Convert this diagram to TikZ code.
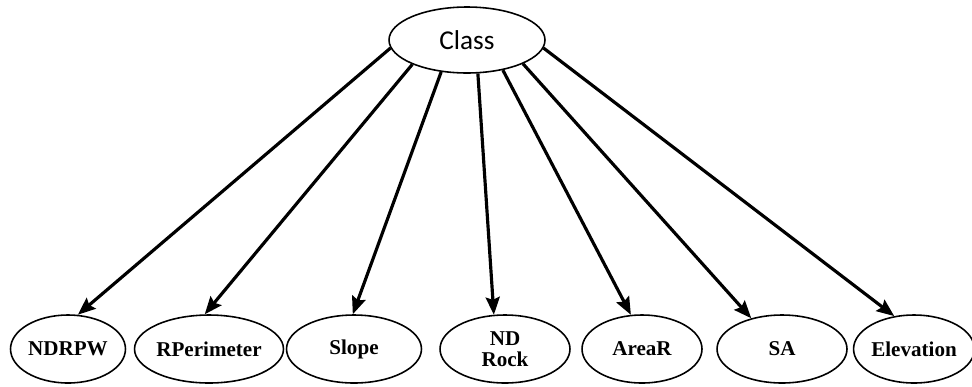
\documentclass[tikz,border=0pt]{standalone}
\usepackage{fontspec}
\setmainfont{Liberation Serif}
\newfontfamily\classfont{Carlito}
\usepackage{tikz}
\usetikzlibrary{shapes,arrows.meta,positioning}
\tikzstyle{rootbox} = [ellipse, draw=black, line width=0.9pt, inner sep=0pt, minimum width=3.12cm, minimum height=1.32cm, font=\classfont\fontsize{15.5}{18}\selectfont]
\tikzstyle{leafbox} = [ellipse, draw=black, line width=0.9pt, inner sep=0pt, minimum height=1.36cm, align=center, font=\bfseries\fontsize{12}{12}\selectfont]
\tikzstyle{arrow} = [line width=1.8pt,-{Stealth[length=10pt,width=8pt,inset=1.5pt]}]

\begin{document}
\begin{tikzpicture}[x=0.02cm, y=-0.02cm]
	\useasboundingbox (0,0) rectangle (972,386);
	\node (class) [rootbox] at (467,40) {Class};
	\node (ndrpw) [leafbox, minimum width=2.3cm] at (68,349) {NDRPW};
	\node (rper) [leafbox, minimum width=2.5cm] at (209,349) {RPerimeter};
	\node (slope) [leafbox, minimum width=2.7cm] at (354,349) {Slope};
	\node (ndrock) [leafbox, minimum width=2.6cm] at (505,349) {ND\\Rock};
	\node (arear) [leafbox, minimum width=2.4cm] at (642,349) {AreaR};
	\node (sa) [leafbox, minimum width=2.6cm] at (782,349) {SA};
	\node (elev) [leafbox, minimum width=2.24cm] at (914,349) {Elevation};

	\draw [arrow] (class.186) -- (ndrpw.74);
	\draw [arrow] (class.204) -- (rper.97);
	\draw [arrow] (class.231) -- (slope.92);
	\draw [arrow] (class.288) -- (ndrock.108);
	\draw [arrow] (class.320) -- (arear.108);
	\draw [arrow] (class.337) -- (sa.135);
	\draw [arrow] (class.354) -- (elev.121);
\end{tikzpicture}
\end{document}
